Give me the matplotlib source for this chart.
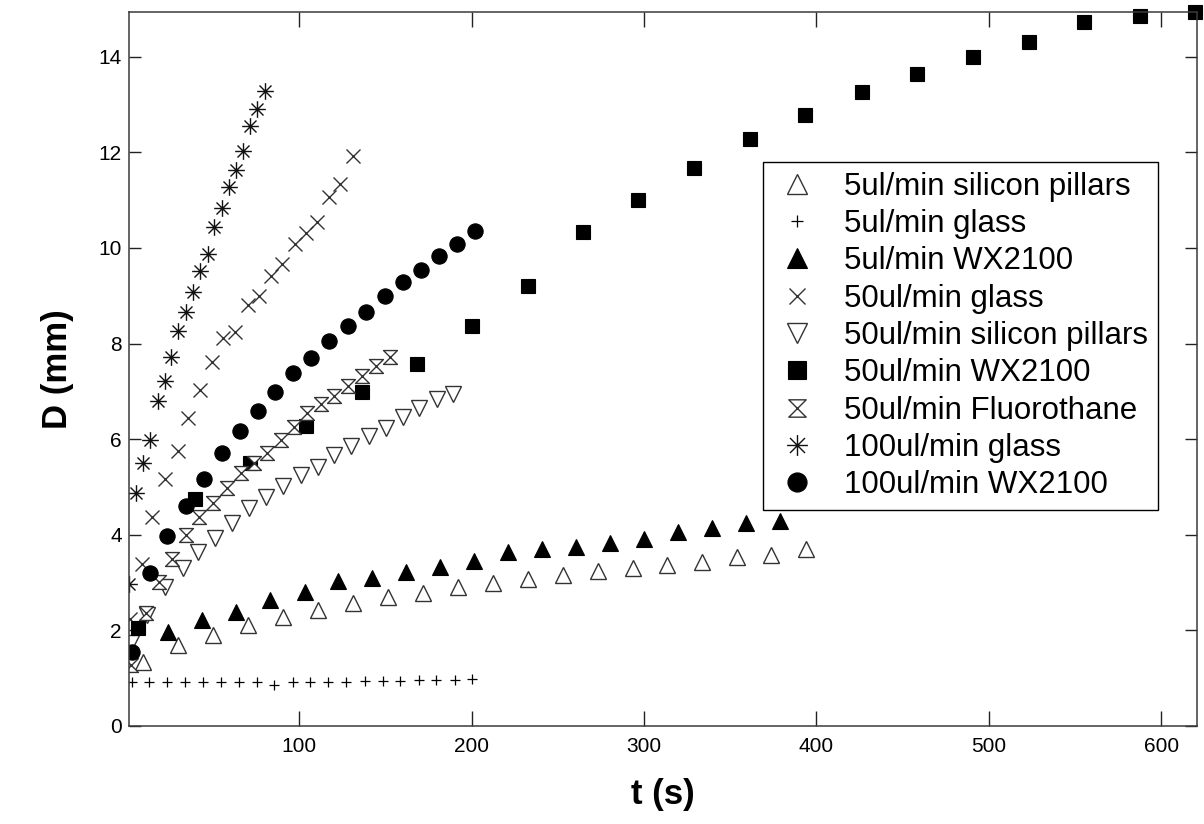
"""Droplet spreading diameter D versus time t for several flow rates and substrates."""
import matplotlib
matplotlib.use("Agg")
import matplotlib.pyplot as plt
from matplotlib.path import Path

plt.rcParams["font.family"] = ["Liberation Sans", "DejaVu Sans"]

# 5 ul/min, silicon pillars (open up-triangles)
t_5_pillars = [9.4, 29.7, 50.0, 70.3, 90.6, 110.9, 131.2, 151.4, 171.7, 192.0,
               212.3, 232.5, 252.8, 273.1, 293.4, 313.6, 333.9, 354.2, 373.9, 394.2]
d_5_pillars = [1.34, 1.69, 1.90, 2.11, 2.28, 2.43, 2.57, 2.70, 2.78, 2.91,
               2.99, 3.08, 3.16, 3.24, 3.31, 3.37, 3.43, 3.54, 3.58, 3.70]

# 5 ul/min, glass (plus)
t_5_glass = [2.9, 13.1, 23.5, 33.8, 44.4, 54.5, 65.1, 75.7, 85.3, 96.2,
             106.6, 116.8, 127.0, 138.1, 148.7, 158.7, 169.3, 179.6, 190.3, 200.5]
d_5_glass = [0.91, 0.91, 0.91, 0.91, 0.91, 0.91, 0.91, 0.91, 0.85, 0.91,
             0.91, 0.92, 0.92, 0.94, 0.94, 0.94, 0.96, 0.96, 0.96, 0.98]

# 5 ul/min, WX2100 (filled up-triangles)
t_5_wx = [23.9, 43.6, 63.3, 83.0, 103.3, 122.4, 142.1, 161.8, 181.5, 201.2,
          220.9, 240.6, 260.3, 280.0, 299.8, 319.5, 339.2, 358.9, 378.6]
d_5_wx = [1.97, 2.22, 2.38, 2.64, 2.80, 3.03, 3.10, 3.22, 3.33, 3.45,
          3.64, 3.70, 3.74, 3.83, 3.91, 4.06, 4.14, 4.25, 4.29]

# 50 ul/min, glass (x)
t_50_glass = [1.9, 8.9, 14.7, 22.2, 29.7, 35.5, 42.5, 49.4, 55.8, 62.7,
              70.3, 76.7, 83.6, 90.0, 97.5, 103.9, 110.3, 117.2, 123.6, 131.1]
d_50_glass = [2.24, 3.39, 4.37, 5.17, 5.75, 6.44, 7.03, 7.62, 8.12, 8.24,
              8.81, 9.00, 9.41, 9.67, 10.08, 10.31, 10.54, 11.07, 11.34, 11.92]

# 50 ul/min, silicon pillars (open down-triangles)
t_50_pillars = [2.5, 11.8, 22.2, 32.6, 41.3, 51.2, 61.0, 70.9, 80.7, 90.6,
                101.0, 110.9, 120.3, 130.1, 140.5, 150.4, 160.3, 169.5, 179.9, 189.2]
d_50_pillars = [1.74, 2.32, 2.91, 3.31, 3.64, 3.93, 4.25, 4.56, 4.79, 5.02,
                5.25, 5.42, 5.67, 5.86, 6.07, 6.23, 6.46, 6.65, 6.84, 6.95]

# 50 ul/min, WX2100 (filled squares)
t_50_wx = [6.5, 39.6, 71.4, 103.9, 136.3, 168.2, 200.5, 232.7, 264.6, 296.8,
           329.1, 361.2, 393.3, 426.4, 458.5, 490.9, 523.0, 555.2, 587.3, 619.4]
d_50_wx = [2.05, 4.75, 5.50, 6.28, 6.99, 7.57, 8.37, 9.20, 10.33, 11.00,
           11.67, 12.27, 12.78, 13.27, 13.64, 14.00, 14.32, 14.72, 14.85, 14.94]

# 50 ul/min, Fluorothane (hourglass)
t_50_fluoro = [2.5, 11.2, 18.7, 26.2, 34.4, 41.9, 49.9, 58.1, 66.3, 73.8,
               81.3, 89.5, 97.0, 104.5, 112.6, 120.1, 128.2, 136.3, 144.4, 152.6]
d_50_fluoro = [1.28, 2.36, 3.01, 3.49, 4.00, 4.37, 4.67, 4.98, 5.29, 5.50,
               5.71, 5.98, 6.26, 6.55, 6.74, 6.90, 7.11, 7.32, 7.53, 7.72]

# 100 ul/min, glass (asterisk)
t_100_glass = [1.3, 5.4, 9.4, 13.5, 18.1, 22.2, 25.7, 29.7, 34.4, 38.4,
               42.5, 47.1, 50.6, 55.2, 59.3, 63.3, 67.4, 71.5, 75.5, 80.1]
d_100_glass = [2.97, 4.87, 5.50, 5.98, 6.80, 7.22, 7.72, 8.26, 8.66, 9.08,
               9.52, 9.87, 10.44, 10.84, 11.28, 11.63, 12.03, 12.55, 12.91, 13.28]

# 100 ul/min, WX2100 (filled circles)
t_100_wx = [3.1, 13.5, 23.3, 34.4, 44.8, 55.2, 65.7, 76.1, 86.0, 96.4,
            106.8, 117.2, 128.2, 138.7, 149.7, 160.1, 170.5, 181.0, 191.4, 201.8]
d_100_wx = [1.55, 3.20, 3.97, 4.60, 5.17, 5.71, 6.17, 6.59, 6.99, 7.38,
            7.70, 8.05, 8.37, 8.66, 9.00, 9.29, 9.54, 9.83, 10.08, 10.36]

X_TICKS = [100, 200, 300, 400, 500, 600]
Y_TICKS = [0, 2, 4, 6, 8, 10, 12, 14]

EDGE = "#333333"

# hourglass: top bar, two crossing diagonals, bottom bar
HOURGLASS = Path([(-1, 1), (1, 1), (-1, -1), (1, -1), (-1, 1)],
                 [Path.MOVETO, Path.LINETO, Path.LINETO, Path.LINETO, Path.CLOSEPOLY])
# eight-spoke asterisk
_r = 0.72
ASTERISK = Path([(0, -1), (0, 1), (-1, 0), (1, 0),
                 (-_r, -_r), (_r, _r), (-_r, _r), (_r, -_r)],
                [Path.MOVETO, Path.LINETO] * 4)

series = [
    (t_5_pillars, d_5_pillars, "5ul/min silicon pillars",
     dict(marker="^", ms=11.5, mfc="white", mec=EDGE, mew=1.0)),
    (t_5_glass, d_5_glass, "5ul/min glass",
     dict(marker="+", ms=7, mec="black", mew=0.9)),
    (t_5_wx, d_5_wx, "5ul/min WX2100",
     dict(marker="^", ms=11.5, mfc="black", mec="black", mew=0.8)),
    (t_50_glass, d_50_glass, "50ul/min glass",
     dict(marker="x", ms=9.5, mec=EDGE, mew=1.0)),
    (t_50_pillars, d_50_pillars, "50ul/min silicon pillars",
     dict(marker="v", ms=11.5, mfc="white", mec=EDGE, mew=1.0)),
    (t_50_wx, d_50_wx, "50ul/min WX2100",
     dict(marker="s", ms=10, mfc="black", mec="black", mew=0.8, clip_on=False)),
    (t_50_fluoro, d_50_fluoro, "50ul/min Fluorothane",
     dict(marker=HOURGLASS, ms=10, mfc="white", mec=EDGE, mew=1.0)),
    (t_100_glass, d_100_glass, "100ul/min glass",
     dict(marker=ASTERISK, ms=12, mec="#111111", mew=1.0)),
    (t_100_wx, d_100_wx, "100ul/min WX2100",
     dict(marker="o", ms=11, mfc="black", mec="black", mew=0.8)),
]

fig = plt.figure(figsize=(12.04, 8.24), dpi=100)
ax = fig.add_axes([0.107, 0.119, 0.887, 0.866])

for t, d, label, style in series:
    ax.plot(t, d, ls="none", label=label, **style)

ax.set_xlim(1.3, 620.5)
ax.set_ylim(0, 14.93)
ax.set_xticks(X_TICKS)
ax.set_yticks(Y_TICKS)

for side in ax.spines.values():
    side.set_color("#3a3a3a")
    side.set_linewidth(1.1)
ax.tick_params(axis="x", direction="in", length=10.5, width=1.0, color="#222222",
               top=True, labelsize=15, pad=8)
ax.tick_params(axis="y", direction="in", length=8.5, width=1.0, color="#222222",
               right=True, labelsize=15, pad=5)

ax.set_xlabel("t (s)", fontsize=25, fontweight="bold", labelpad=16)
ax.set_ylabel("D (mm)", fontsize=25, fontweight="bold", labelpad=18)

leg = ax.legend(loc="upper left", bbox_to_anchor=(0.594, 0.790), fontsize=22.5,
                frameon=True, fancybox=False, edgecolor="black", framealpha=1,
                handlelength=1.55, handletextpad=0.75, labelspacing=0.235,
                borderpad=0.3, borderaxespad=0, numpoints=1, markerscale=1.25)
leg.get_frame().set_linewidth(1.0)

fig.savefig("out.png", dpi=100)
